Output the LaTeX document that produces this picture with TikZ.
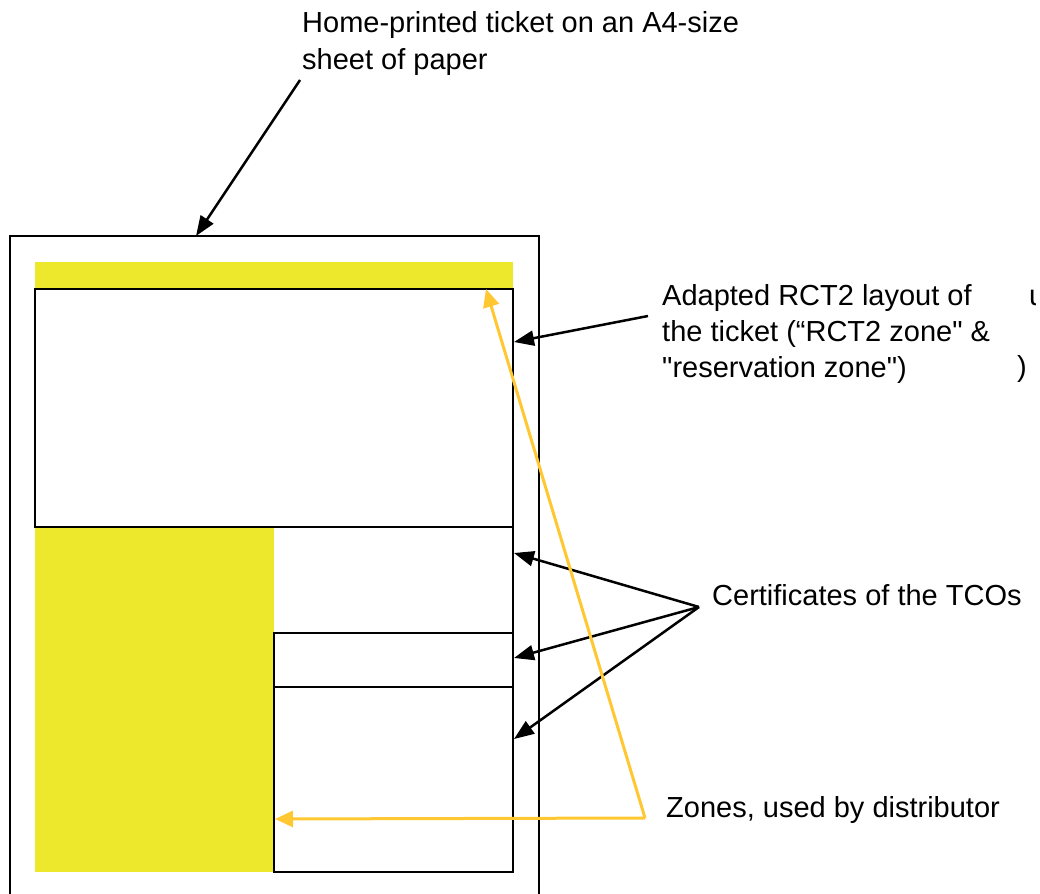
\documentclass[tikz,border=0pt]{standalone}
\usepackage{fontspec}
\setmainfont{Liberation Sans}[Ligatures=TeXOff]
\usetikzlibrary{arrows.meta}
\definecolor{zoneyellow}{HTML}{EDE82B}
\definecolor{arrowyellow}{HTML}{FFC832}
\begin{document}
\begin{tikzpicture}[x=1pt,y=-1pt,
  box/.style={draw=black, line width=2pt},
  lbl/.style={anchor=north west, align=left, inner sep=0pt, font=\fontsize{29}{37}\selectfont},
  blackarrow/.style={draw=black, line width=2.5pt, -{Triangle[length=20pt,width=15pt]}},
  yellowarrow/.style={draw=arrowyellow, line width=3pt, -{Triangle[length=18pt,width=16pt]}}]
\useasboundingbox (0,0) rectangle (1040,893);
\clip (0,0) rectangle (1040,893);
% sheet of paper
\draw[line width=1.6pt] (10,900) -- (10,236) -- (539,236) -- (539,900);
% zones used by distributor
\fill[zoneyellow] (35,262) rectangle (513,289);
\fill[zoneyellow] (35,527) rectangle (274,872);
% RCT2 layout
\draw[box] (35,289) rectangle (513,527);
% certificate boxes
\draw[box] (513,527) -- (513,633);
\draw[box] (274,633) rectangle (513,687);
\draw[box] (274,687) rectangle (513,872);

% texts
\node[lbl] (home) at (302,11) {Home-printed ticket on an A4-size\\sheet of paper};
\node[lbl, font=\fontsize{29}{36}\selectfont] (rct) at (662,284) {Adapted RCT2 layout of\\the ticket (“RCT2 zone" \&\\"reservation zone")};
\node[lbl] (cert) at (712,584) {Certificates of the TCOs};
\node[lbl] (zones) at (666,796) {Zones, used by distributor};
\begin{scope}
\clip (1000,270) rectangle (1035,400);
\node[anchor=base west, inner sep=0pt, font=\fontsize{29}{36}\selectfont] (stray1) at (1029,305) {u};
\node[anchor=base west, inner sep=0pt, font=\fontsize{29}{36}\selectfont] (stray2) at (1017,376) {)};
\end{scope}

% connector end points
\coordinate (homeS) at (300,80);
\coordinate (sheetTop) at (196,236);
\coordinate (rctW) at (648,316);
\coordinate (rctE) at (514,342);
\coordinate (certW) at (699,607);
\coordinate (c1) at (514,553);
\coordinate (c2) at (514,658);
\coordinate (c3) at (514,739);
\coordinate (zonesW) at (645,818);
\coordinate (ytop) at (486,289);
\coordinate (yleft) at (275,819);

% black arrows
\draw[blackarrow] (homeS) -- (sheetTop);
\draw[blackarrow] (rctW) -- (rctE);
\draw[blackarrow] (certW) -- (c1);
\draw[blackarrow] (certW) -- (c2);
\draw[blackarrow] (certW) -- (c3);
% yellow arrows
\draw[yellowarrow] (zonesW) -- (ytop);
\draw[yellowarrow] (zonesW) -- (yleft);
\end{tikzpicture}
\end{document}
